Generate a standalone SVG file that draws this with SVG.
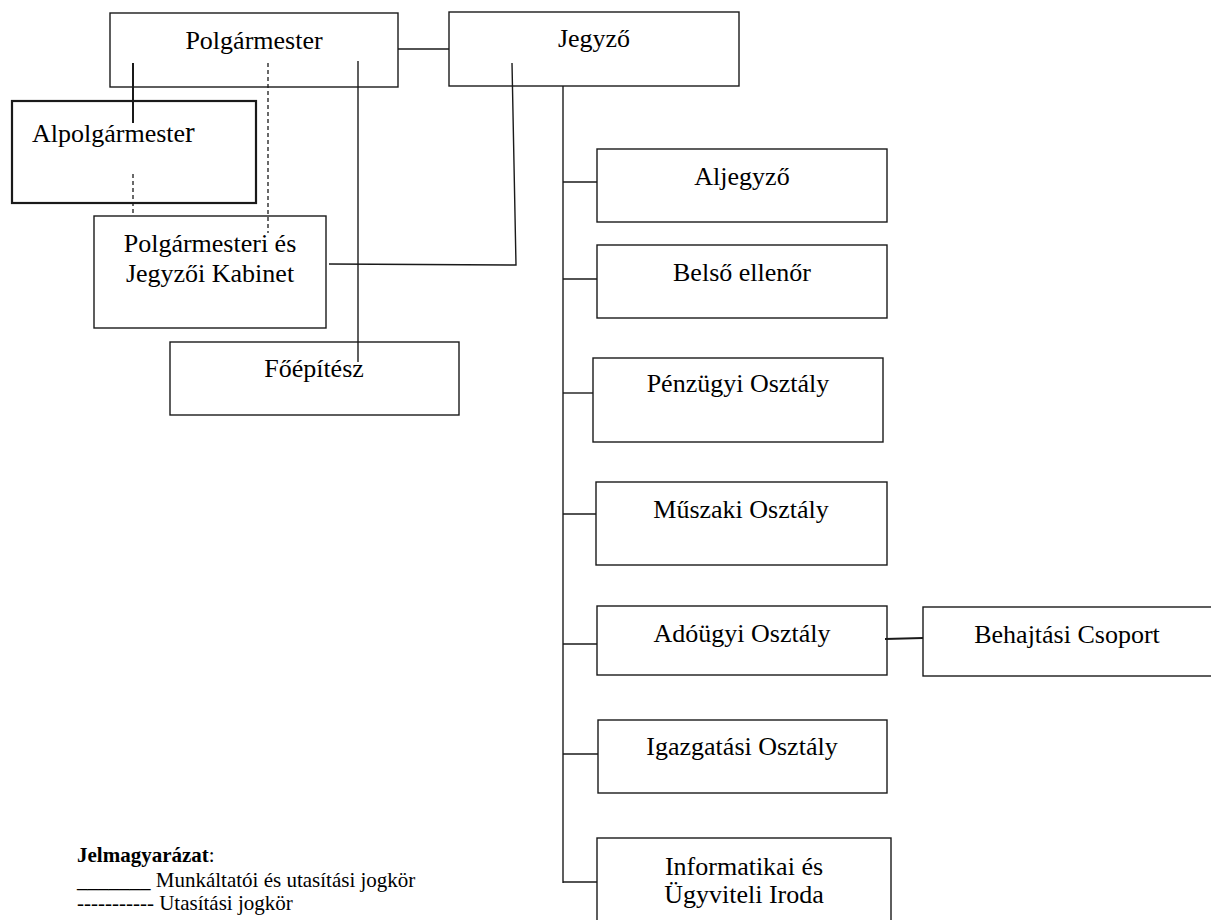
<svg xmlns="http://www.w3.org/2000/svg" width="1211" height="920" viewBox="0 0 1211 920">
<style>
.box{fill:#fff;stroke:#1a1a1a;stroke-width:1.4}
.thick{stroke-width:2.2}
.t{font-family:"Liberation Serif","Times New Roman",serif;font-size:26px;fill:#000;text-anchor:middle}
.tl{text-anchor:start}
.c{fill:none;stroke:#1a1a1a;stroke-width:1.4}
.d{fill:none;stroke:#1a1a1a;stroke-width:1.3;stroke-dasharray:4 3}
.lg{font-family:"Liberation Serif","Times New Roman",serif;font-size:21px;fill:#000}
</style>
<rect width="1211" height="920" fill="#fff"/>
<g id="n-polgarmester"><rect class="box" x="110" y="13" width="288" height="74"/><text class="t" x="254" y="49">Polgármester</text></g>
<g id="n-jegyzo"><rect class="box" x="449" y="12" width="290" height="74"/><text class="t" x="594" y="47">Jegyző</text></g>
<g id="n-alpolgarmester"><rect class="box thick" x="12" y="101" width="244" height="102"/><text class="t tl" x="32" y="142">Alpolgármeste<tspan font-size="29">r</tspan></text></g>
<g id="n-kabinet"><rect class="box" x="94" y="216" width="232" height="112"/><text class="t" x="210" y="252">Polgármesteri és</text><text class="t" x="210" y="282">Jegyzői Kabinet</text></g>
<g id="n-foepitesz"><rect class="box" x="170" y="342" width="289" height="73"/><text class="t" x="314" y="377">Főépítész</text></g>
<g id="n-aljegyzo"><rect class="box" x="597" y="149" width="290" height="73"/><text class="t" x="742" y="185">Aljegyző</text></g>
<g id="n-belso"><rect class="box" x="597" y="245" width="290" height="73"/><text class="t" x="742" y="281">Belső ellenőr</text></g>
<g id="n-penzugyi"><rect class="box" x="593" y="358" width="290" height="84"/><text class="t" x="738" y="392">Pénzügyi Osztály</text></g>
<g id="n-muszaki"><rect class="box" x="596" y="482" width="291" height="83"/><text class="t" x="741" y="518">Műszaki Osztály</text></g>
<g id="n-adougyi"><rect class="box" x="597" y="606" width="290" height="69"/><text class="t" x="742" y="642">Adóügyi Osztály</text></g>
<g id="n-behajtasi"><rect class="box" x="923" y="607" width="300" height="69"/><text class="t" x="1067" y="643">Behajtási Csoport</text></g>
<g id="n-igazgatasi"><rect class="box" x="598" y="720" width="289" height="73"/><text class="t" x="742" y="755">Igazgatási Osztály</text></g>
<g id="n-informatikai"><rect class="box" x="597" y="838" width="294" height="92"/><text class="t" x="744" y="875">Informatikai és</text><text class="t" x="744" y="903">Ügyviteli Iroda</text></g>
<g id="connectors">
<line class="c" x1="398" y1="49" x2="449" y2="49"/>
<line class="c" x1="133" y1="63" x2="133" y2="123" style="stroke-width:2"/>
<line class="d" x1="133" y1="174" x2="133" y2="216"/>
<line class="d" x1="268" y1="63" x2="268" y2="233"/>
<line class="c" x1="358" y1="61" x2="358" y2="362"/>
<polyline class="c" points="512,63 516,265 329,264"/>
<line class="c" x1="563" y1="86" x2="563" y2="883"/>
<line class="c" x1="563" y1="182" x2="597" y2="182"/>
<line class="c" x1="563" y1="279" x2="597" y2="279"/>
<line class="c" x1="563" y1="393" x2="593" y2="393"/>
<line class="c" x1="563" y1="514" x2="596" y2="514"/>
<line class="c" x1="563" y1="644" x2="597" y2="644"/>
<line class="c" x1="563" y1="754" x2="598" y2="754"/>
<line class="c" x1="563" y1="882" x2="597" y2="882"/>
<line class="c" x1="885" y1="639" x2="923" y2="638" style="stroke-width:2"/>
</g>
<g id="legend">
<text class="lg" x="77" y="862"><tspan font-weight="bold">Jelmagyarázat</tspan>:</text>
<text class="lg" x="77" y="887">_______ Munkáltatói és utasítási jogkör</text>
<text class="lg" x="77" y="910">----------- Utasítási jogkör</text>
</g>
</svg>
